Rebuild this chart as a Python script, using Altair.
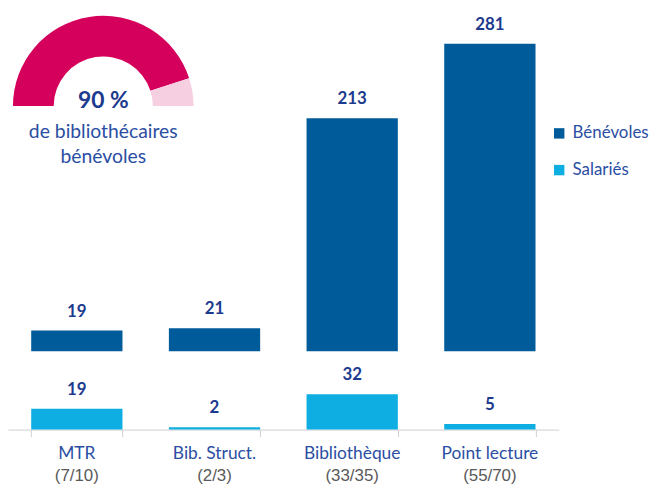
import math
import altair as alt
import pandas as pd

# ---- data ----
categories = ["MTR", "Bib. Struct.", "Bibliothèque", "Point lecture"]
fractions = ["(7/10)", "(2/3)", "(33/35)", "(55/70)"]
benevoles = [19, 21, 213, 281]
salaries = [19, 2, 32, 5]
series = ["Bénévoles", "Salariés"]
gauge_parts = ["Bénévoles", "Salariés"]
gauge_pct = [90, 10]
gauge_title = "90 %"
gauge_caption = ["de bibliothécaires", "bénévoles"]

FONT = "Lato"
DARK = "#005b9a"
LIGHT = "#0eaee3"
NAVY = "#1c3a8e"
CAT = "#2a4ea3"
GREY = "#595959"

top_df = pd.DataFrame({"cat": categories, "value": benevoles, "series": series[0]})
bot_df = pd.DataFrame({"cat": categories, "frac": fractions, "value": salaries, "series": series[1]})
gauge_df = pd.DataFrame({"part": gauge_parts, "pct": gauge_pct})

W = 555
xscale = alt.Scale(domain=categories, paddingInner=0.337, paddingOuter=0.1685)
color_scale = alt.Scale(domain=series, range=[DARK, LIGHT])

# ---- top panel: Bénévoles ----
top_base = alt.Chart(top_df).encode(
    x=alt.X("cat:N", scale=xscale, sort=categories, axis=None),
    y=alt.Y("value:Q", scale=alt.Scale(domain=[0, 312], nice=False), axis=None),
)
top_bars = top_base.mark_bar().encode(
    color=alt.Color(
        "series:N",
        scale=color_scale,
        legend=alt.Legend(
            title=None, orient="none", legendX=547, legendY=116,
            symbolType="square", symbolSize=110, symbolStrokeWidth=0,
            labelFont=FONT, labelFontSize=17, labelColor=CAT,
            rowPadding=19, labelOffset=5, padding=0,
        ),
    )
)
top_text = top_base.mark_text(
    dy=-19, font=FONT, fontWeight="bold", fontSize=17, color=NAVY
).encode(text="value:Q")

gauge = alt.Chart(gauge_df).mark_arc(innerRadius=50, outerRadius=91).encode(
    theta=alt.Theta("pct:Q", stack=True,
                    scale=alt.Scale(domain=[0, 100], range=[-math.pi / 2, math.pi / 2])),
    fill=alt.Fill("part:N", scale=alt.Scale(domain=gauge_parts, range=["#d5005b", "#f6cfe0"]),
                  legend=None),
    order=alt.Order("part:N"),
    x=alt.value(96),
    y=alt.value(97),
)
g_title = alt.Chart(pd.DataFrame({"t": [gauge_title]})).mark_text(
    font=FONT, fontWeight="bold", fontSize=23, color=NAVY
).encode(text="t:N", x=alt.value(96), y=alt.value(92))
g_cap1 = alt.Chart(pd.DataFrame({"t": [gauge_caption[0]]})).mark_text(
    font=FONT, fontSize=19.5, color=CAT
).encode(text="t:N", x=alt.value(96), y=alt.value(123))
g_cap2 = alt.Chart(pd.DataFrame({"t": [gauge_caption[1]]})).mark_text(
    font=FONT, fontSize=19.5, color=CAT
).encode(text="t:N", x=alt.value(96), y=alt.value(148))

top = alt.layer(top_bars, top_text, gauge, g_title, g_cap1, g_cap2).properties(width=W, height=344)

# ---- bottom panel: Salariés ----
bot_base = alt.Chart(bot_df).encode(
    x=alt.X("cat:N", scale=xscale, sort=categories,
            axis=alt.Axis(title=None, labels=False, domainColor="#d0d0d0", tickColor="#d0d0d0",
                          tickBand="extent", tickSize=7, grid=False)),
    y=alt.Y("value:Q", scale=alt.Scale(domain=[0, 54], nice=False), axis=None),
)
bot_bars = bot_base.mark_bar().encode(
    color=alt.Color("series:N", scale=color_scale, legend=None)
)
bot_text = bot_base.mark_text(
    dy=-19, font=FONT, fontWeight="bold", fontSize=17, color=NAVY
).encode(text="value:Q")
cat_text = bot_base.mark_text(font=FONT, fontSize=17.5, color=CAT).encode(
    text="cat:N", y=alt.value(85)
)
frac_text = bot_base.mark_text(font="Liberation Sans", fontSize=17, color=GREY).encode(
    text="frac:N", y=alt.value(107)
)
bottom = alt.layer(bot_bars, bot_text, cat_text, frac_text).properties(width=W, height=60)

chart = (
    alt.vconcat(top, bottom, spacing=19, bounds="flush")
    .resolve_scale(color="independent")
    .properties(padding=0)
    .configure_view(stroke=None)
)

chart.save("out.html", embed_options={"renderer": "svg", "actions": False})
